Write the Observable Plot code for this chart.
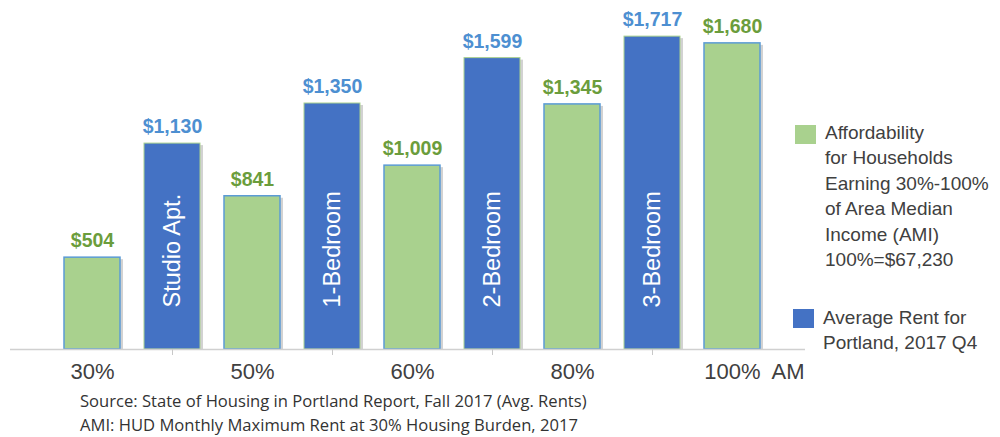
<!DOCTYPE html>
<html>
<head>
<meta charset="utf-8">
<script src="https://cdn.jsdelivr.net/npm/d3@7"></script>
<script src="https://cdn.jsdelivr.net/npm/@observablehq/plot@0.6"></script>
<style>
  body { margin: 0; background: #fff; }
  #wrap { position: relative; width: 1000px; height: 437px; overflow: hidden; font-family: "Liberation Sans", Arial, sans-serif; }
  #chart { position: absolute; left: 0; top: 0; }
  .sw { position: absolute; width: 21px; height: 19px; }
  .lgtext { position: absolute; font-size: 19px; line-height: 25.4px; color: #404040; white-space: nowrap; }
  #caption { position: absolute; left: 80px; top: 389px; font-family: "Open Sans", sans-serif; font-size: 16.6px; line-height: 24px; color: #333; white-space: nowrap; }
</style>
</head>
<body>
<div id="wrap">
  <div id="chart"></div>
  <div class="sw" style="left:795px;top:125px;background:#a9d18e;"></div>
  <div class="lgtext" id="lg1" style="left:825px;top:120px;"></div>
  <div class="sw" style="left:793px;top:309px;background:#4472c4;"></div>
  <div class="lgtext" id="lg2" style="left:823px;top:305px;"></div>
  <div id="caption"></div>
</div>
<script>
// ---- data ----
const categories = ["30%", "Studio Apt.", "50%", "1-Bedroom", "60%", "2-Bedroom", "80%", "3-Bedroom", "100%"];
const values = [504, 1130, 841, 1350, 1009, 1599, 1345, 1717, 1680];
const series = ["afford", "rent", "afford", "rent", "afford", "rent", "afford", "rent", "afford"];
const amiLabels = ["30%", "50%", "60%", "80%", "100%"];
const rentLabels = ["Studio Apt.", "1-Bedroom", "2-Bedroom", "3-Bedroom"];
const legendAfford = ["Affordability", "for Households", "Earning 30%-100%", "of Area Median", "Income (AMI)", "100%=$67,230"];
const legendRent = ["Average Rent for", "Portland, 2017 Q4"];
const captionLines = [
  "Source: State of Housing in Portland Report, Fall 2017 (Avg. Rents)",
  "AMI: HUD Monthly Maximum Rent at 30% Housing Burden, 2017"
];
const amiSuffix = "AM";

const fmt = d3.format("$,");
const data = categories.map((c, i) => ({cat: c, value: values[i], series: series[i], label: fmt(values[i])}));
const afford = data.filter(d => d.series === "afford");
const rent = data.filter(d => d.series === "rent");

const GREEN = "#a9d18e", BLUE = "#4472c4";
const GREEN_TXT = "#6b9d3c", BLUE_TXT = "#4d8fd1";

const chart = Plot.plot({
  width: 1000,
  height: 385,
  marginLeft: 10,
  marginRight: 195,
  marginTop: 21,
  marginBottom: 36,
  style: {fontFamily: "Liberation Sans, Arial, sans-serif", background: "white", overflow: "visible"},
  x: {type: "band", domain: categories, paddingInner: 0.3, paddingOuter: 0, insetLeft: 51, insetRight: 43},
  y: {domain: [0, 1800], axis: null},
  marks: [
    // soft shadow to the right of each bar
    Plot.barY(data, {x: "cat", y: "value", fill: "#7f7f7f", fillOpacity: 0.35, dx: 3, insetTop: 2}),
    Plot.barY(afford, {x: "cat", y: "value", fill: GREEN, stroke: "#5b9bd5", strokeWidth: 1.5}),
    Plot.barY(rent, {x: "cat", y: "value", fill: BLUE, stroke: "#a9d18e", strokeWidth: 1}),
    Plot.ruleY([0], {stroke: "#d0d0d0", strokeWidth: 1.5}),
    Plot.axisX(rentLabels, {tickSize: 6, tickFormat: () => "", stroke: "#c8c8c8", label: null}),
    Plot.axisX(amiLabels, {tickSize: 0, tickPadding: 14, fontSize: 22, color: "#404040", label: null}),
    Plot.text([amiSuffix], {x: () => amiLabels[4], text: d => d, frameAnchor: "bottom", lineAnchor: "top", textAnchor: "start", dx: 39, dy: 14, fontSize: 22, fill: "#404040"}),
    Plot.text(afford, {x: "cat", y: "value", text: "label", dy: -16.5, fontSize: 19.5, fontWeight: "bold", fill: GREEN_TXT}),
    Plot.text(rent, {x: "cat", y: "value", text: "label", dy: -16.5, fontSize: 19.5, fontWeight: "bold", fill: BLUE_TXT}),
    Plot.text(rent, {x: "cat", y: () => 0, text: "cat", rotate: -90, textAnchor: "start", dy: -42, fontSize: 23.5, fill: "white"})
  ]
});
document.getElementById("chart").appendChild(chart);

document.getElementById("lg1").innerHTML = legendAfford.join("<br>");
document.getElementById("lg2").innerHTML = legendRent.join("<br>");
document.getElementById("caption").innerHTML = captionLines.join("<br>");
</script>
</body>
</html>
